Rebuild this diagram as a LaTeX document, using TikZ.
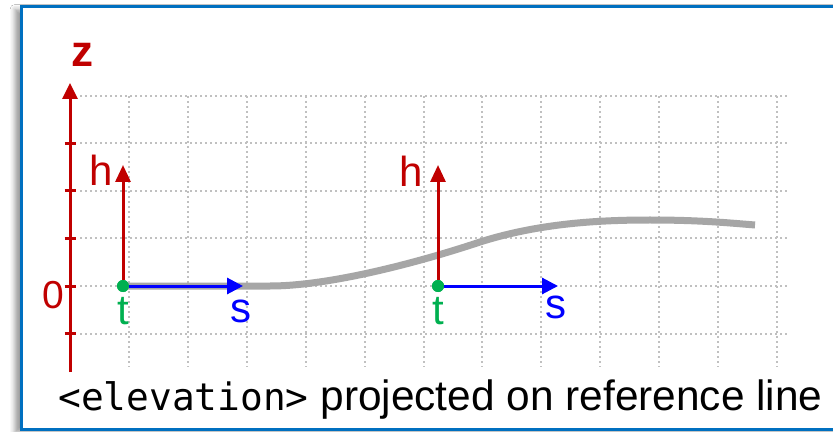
\documentclass[tikz,border=0pt]{standalone}
\usepackage{fontspec}
\setmainfont{Liberation Sans}
\setmonofont{DejaVu Sans Mono}
\usepackage{tikz}
\usetikzlibrary{arrows.meta, positioning, shadows.blur}
\definecolor{elevRed}{RGB}{192,0,0}
\definecolor{elevBlue}{RGB}{0,0,255}
\definecolor{elevGreen}{RGB}{0,176,80}
\definecolor{elevGray}{RGB}{166,166,166}
\definecolor{elevGrid}{RGB}{192,192,192}
\definecolor{elevFrame}{RGB}{0,112,192}

\begin{document}
\begin{tikzpicture}[x=0.5pt, y=-0.5pt,
    frame/.style={draw=elevFrame, line width=1.5pt, fill=white,
        blur shadow={shadow xshift=-3pt, shadow yshift=-1.5pt, shadow blur radius=2.5pt}},
    gridline/.style={elevGrid, line width=1pt, dash pattern=on 1pt off 1.5pt},
    zaxis/.style={elevRed, line width=1.5pt, -{Triangle[length=8pt, width=7.5pt]}},
    harr/.style={elevRed, line width=1.5pt, -{Triangle[length=8.5pt, width=7.5pt]}},
    sarr/.style={elevBlue, line width=1.5pt, -{Triangle[length=8pt, width=8pt]}},
    profile/.style={elevGray, line width=3.5pt},
    dot/.style={circle, fill=elevGreen, inner sep=0pt, minimum size=6pt},
    lbl/.style={font=\fontsize{21}{25}\selectfont, inner sep=0pt}
]
\clip (0,0) rectangle (833,432);
\fill[white] (0,0) rectangle (833,432);
\draw[frame] (21,6.5) rectangle (860,429);

% dotted grid
\foreach \y in {96,143.5,191,238.5,286,333.5}
    \draw[gridline] (80,\y) -- (790,\y);
\foreach \i in {0,...,11}
    \draw[gridline] ({129+58.9*\i},96) -- ++(0,271);

% z axis
\coordinate (zbot) at (70,372);
\coordinate (ztop) at (70,83);
\draw[zaxis] (zbot) -- (ztop);
\foreach \y in {143.5,191,238.5,286,333.5}
    \draw[elevRed, line width=1.5pt] (64.5,\y) -- (75.5,\y);
\node[lbl, elevRed, font=\fontsize{22}{25}\selectfont\bfseries] (zlbl) at (82,55) {z};
\node[lbl, elevRed, font=\fontsize{19.5}{22}\selectfont] (zero) at (53,295) {0};

% elevation profile
\node[dot] (t1) at (123,286) {};
\node[dot] (t2) at (438,286) {};
\draw[profile] (t1.center) -- (270,286)
    .. controls (330,286) and (420,262) .. (480,242)
    .. controls (540,223) and (600,220) .. (650,220)
    .. controls (700,220) and (730,223) .. (755,225);

% local frames
\coordinate (h1) at (123,165);
\coordinate (s1) at (243,286);
\coordinate (h2) at (438,165);
\coordinate (s2) at (558,286);
\draw[harr] (t1) -- (h1);
\draw[harr] (t2) -- (h2);
\draw[sarr] (t1) -- (s1);
\draw[sarr] (t2) -- (s2);
\node[dot] at (t1) {};
\node[dot] at (t2) {};

\node[lbl, elevRed] (h1lbl) at (101,170) {h};
\node[lbl, elevRed] (h2lbl) at (411,171) {h};
\node[lbl, elevGreen] (t1lbl) at (123,311) {t};
\node[lbl, elevGreen] (t2lbl) at (438,311) {t};
\node[lbl, elevBlue] (s1lbl) at (241,311) {s};
\node[lbl, elevBlue] (s2lbl) at (556,307) {s};

\node[anchor=base west, inner sep=0pt, font=\fontsize{21.2}{25}\selectfont] (caption) at (58,410)
    {{\fontsize{18.9}{22}\selectfont\ttfamily <elevation>} projected on reference line};
\end{tikzpicture}
\end{document}
